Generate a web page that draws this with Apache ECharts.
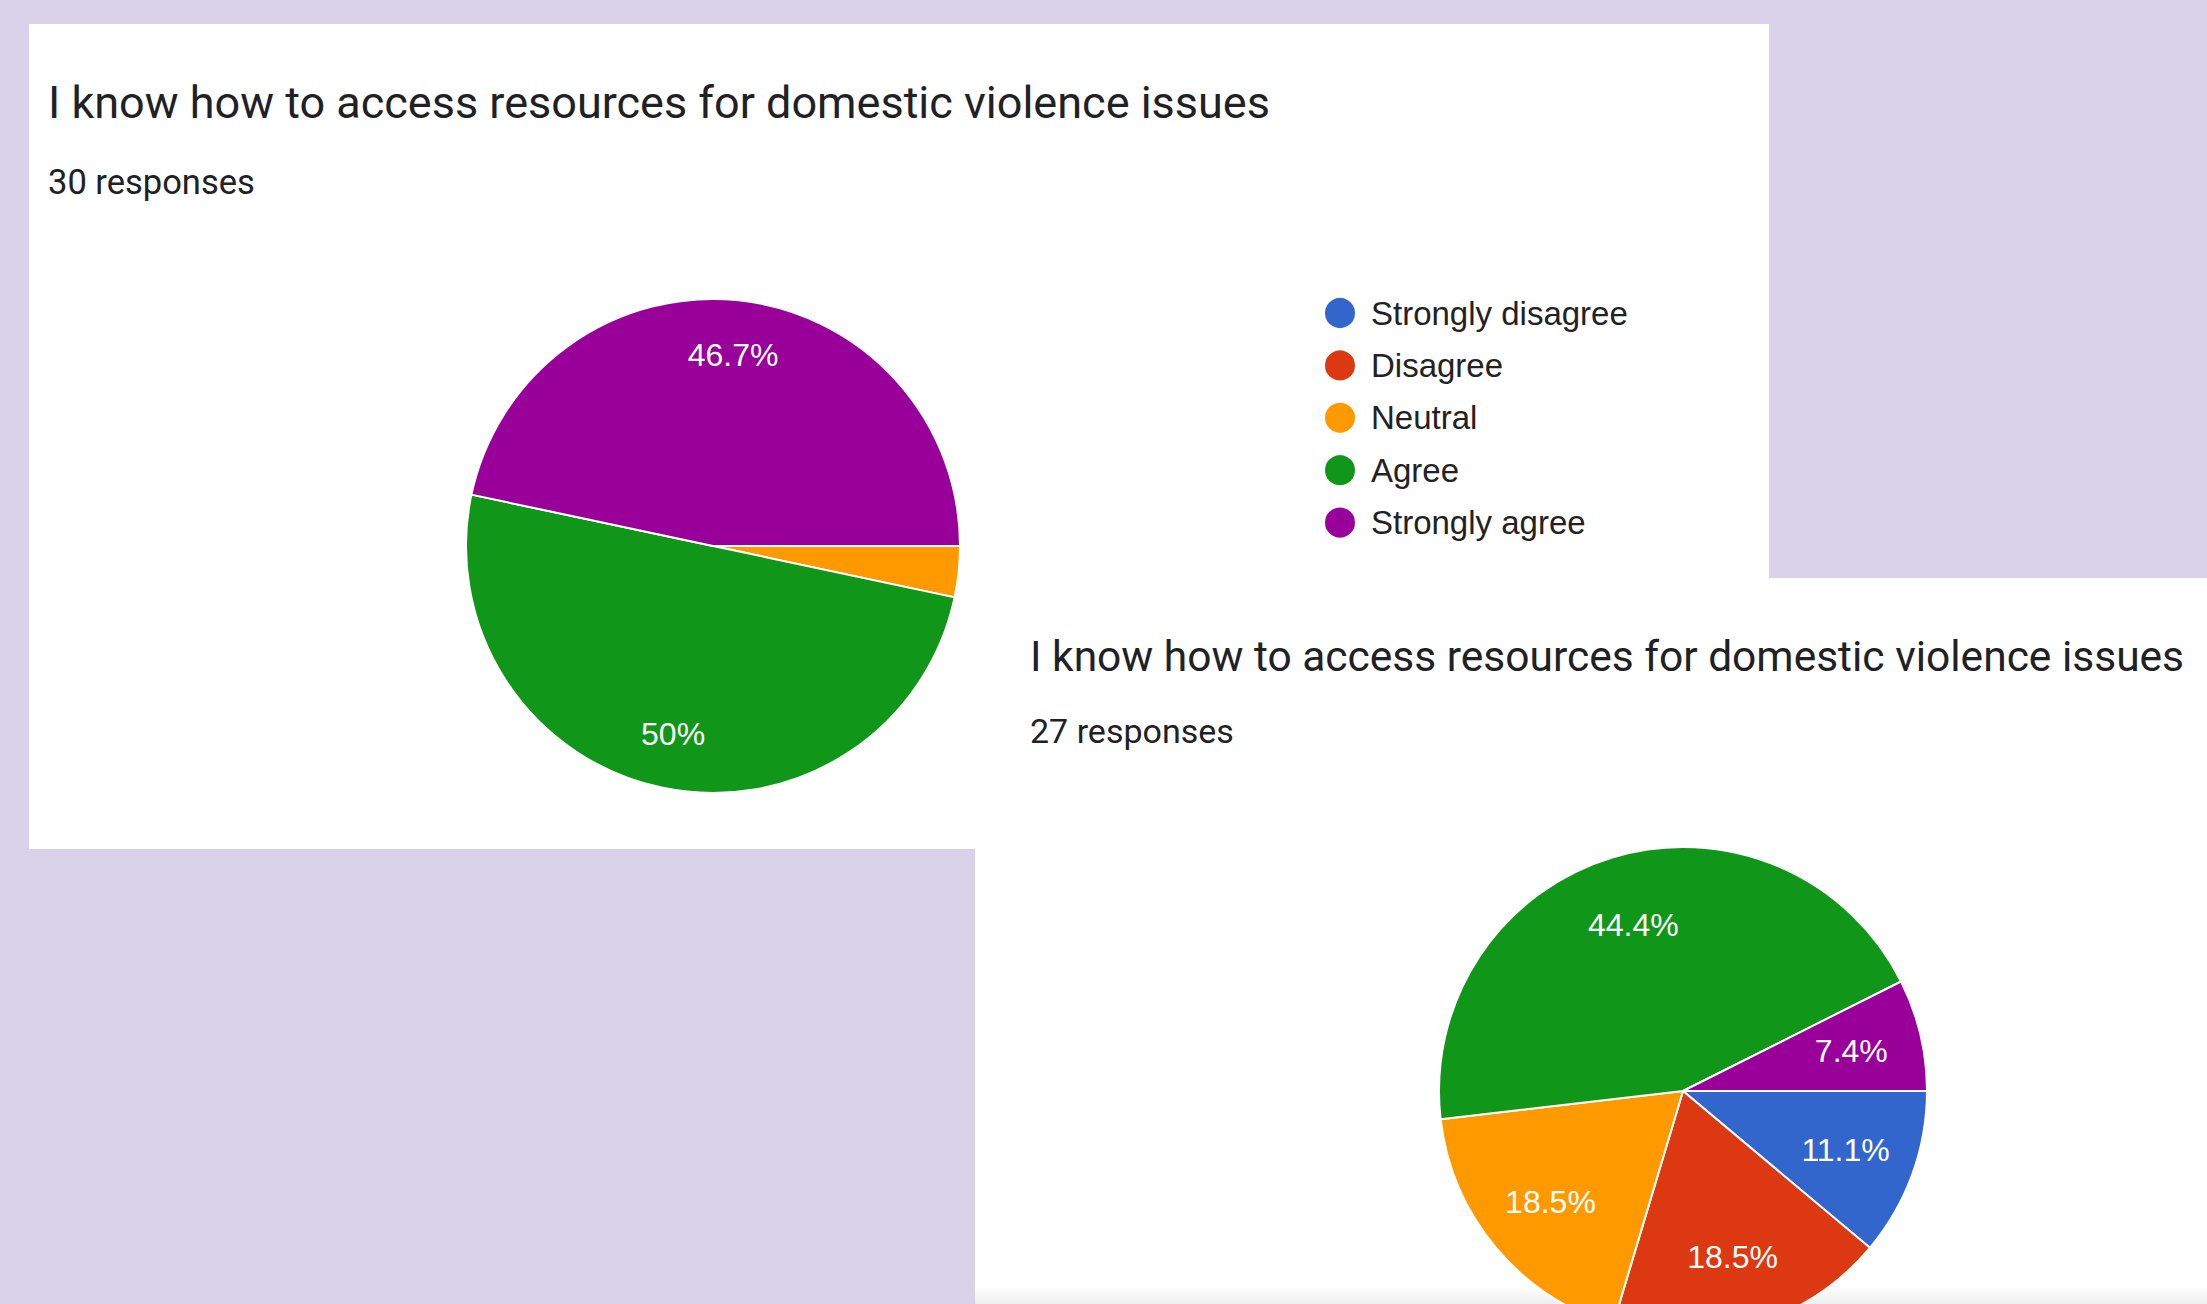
<!DOCTYPE html>
<html>
<head>
<meta charset="utf-8">
<script src="https://cdn.jsdelivr.net/npm/echarts@6/dist/echarts.min.js"></script>
<style>
  html, body { margin: 0; padding: 0; background: #D9D2E9; }
  #chart { width: 2207px; height: 1304px; }
</style>
</head>
<body>
<div id="chart"></div>
<script>
// ---- data ----
const categories = ['Strongly disagree', 'Disagree', 'Neutral', 'Agree', 'Strongly agree'];
const sliceColors = ['#3366CC', '#DC3912', '#FF9900', '#109618', '#990099'];
const questionTitle = 'I know how to access resources for domestic violence issues';
const responsesBefore = [0, 0, 1, 15, 14];   // 30 responses
const responsesAfter = [3, 5, 5, 12, 2];     // 27 responses
const subtitleBefore = '30 responses';
const subtitleAfter = '27 responses';

function sum(a) { return a.reduce((s, v) => s + v, 0); }
function toData(arr) { return categories.map((c, i) => ({ name: c, value: arr[i], itemStyle: { color: sliceColors[i] } })); }
function pctFormatter(arr) {
  const total = sum(arr);
  return p => {
    const pct = p.value / total * 100;
    if (pct < 5) return '';
    let s = pct.toFixed(1);
    if (s.endsWith('.0')) s = s.slice(0, -2);
    return s + '%';
  };
}

const chart = echarts.init(document.getElementById('chart'), null, { renderer: 'svg' });

const titleFont = 'Roboto, "Open Sans", sans-serif';
const chartFont = '"Liberation Sans", Arial, sans-serif';

function visiblePie(arr, center, r) {
  return {
    type: 'pie', center: center, radius: [0, r],
    startAngle: 0, clockwise: true, avoidLabelOverlap: false,
    data: toData(arr),
    itemStyle: { borderColor: '#ffffff', borderWidth: 2 },
    label: { show: false }, labelLine: { show: false },
    emphasis: { disabled: true }, silent: true, z: 2
  };
}
function labelPie(arr, center, r0, r) {
  return {
    type: 'pie', center: center, radius: [r0, r],
    startAngle: 0, clockwise: true, avoidLabelOverlap: false,
    data: toData(arr).map(d => ({ name: d.name, value: d.value })),
    itemStyle: { color: 'rgba(0,0,0,0)', borderWidth: 0 },
    label: {
      show: true, position: 'inside', color: '#ffffff',
      fontFamily: chartFont, fontSize: 32, fontWeight: 'normal',
      formatter: pctFormatter(arr)
    },
    labelLine: { show: false },
    emphasis: { disabled: true }, silent: true, z: 3
  };
}

const option = {
  backgroundColor: '#D9D2E9',
  animation: false,
  graphic: [
    { type: 'rect', z: 0, shape: { x: 29, y: 24, width: 1740, height: 825 }, style: { fill: '#ffffff' } },
    { type: 'rect', z: 1, shape: { x: 975, y: 578, width: 1240, height: 740 }, style: { fill: '#ffffff' } },
    { type: 'rect', z: 1, shape: { x: 975, y: 1286, width: 1240, height: 18 },
      style: { fill: new echarts.graphic.LinearGradient(0, 0, 0, 1, [
        { offset: 0, color: 'rgba(0,0,0,0)' }, { offset: 1, color: 'rgba(0,0,0,0.07)' }]) } },
    { type: 'text', z: 5, x: 48, y: 102, style: { text: questionTitle, font: '45px ' + titleFont, fill: '#202124', verticalAlign: 'middle' } },
    { type: 'text', z: 5, x: 48, y: 182, style: { text: subtitleBefore, font: '34.5px ' + titleFont, fill: '#202124', verticalAlign: 'middle' } },
    { type: 'text', z: 5, x: 1030, y: 656, style: { text: questionTitle, font: '42.5px ' + titleFont, fill: '#202124', verticalAlign: 'middle' } },
    { type: 'text', z: 5, x: 1030, y: 731, style: { text: subtitleAfter, font: '34px ' + titleFont, fill: '#202124', verticalAlign: 'middle' } }
  ],
  legend: {
    show: true, orient: 'vertical', left: 1318, top: 291,
    icon: 'circle', itemWidth: 32, itemHeight: 32, itemGap: 18.4,
    selectedMode: false, data: categories,
    textStyle: { fontFamily: chartFont, fontSize: 33, color: '#222222', padding: [0, 0, 0, 10] }
  },
  series: [
    visiblePie(responsesBefore, [713, 546], 247),
    visiblePie(responsesAfter, [1683, 1091], 244),
    labelPie(responsesBefore, [713, 546], 131, 247),
    labelPie(responsesAfter, [1683, 1091], 96, 244)
  ]
};
chart.setOption(option);
</script>
</body>
</html>
